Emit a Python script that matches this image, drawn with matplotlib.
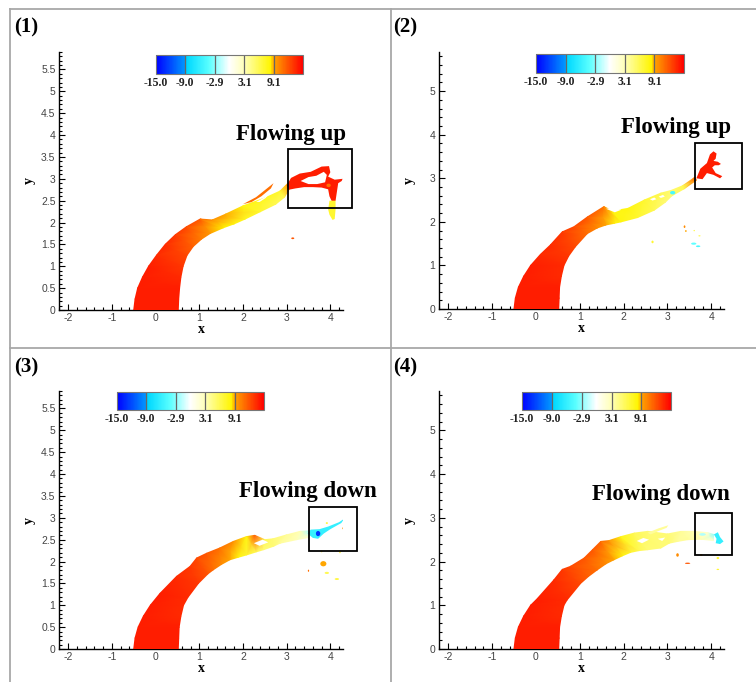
import numpy as np
import matplotlib
matplotlib.use("Agg")
import matplotlib.pyplot as plt
from matplotlib.colors import LinearSegmentedColormap, Normalize
from matplotlib.patches import Rectangle, Ellipse, Polygon
from matplotlib.cm import ScalarMappable
from matplotlib.ticker import MultipleLocator, FormatStrFormatter
from matplotlib.lines import Line2D

W, H = 756, 682
SERIF = "Liberation Serif"
SANS = "Liberation Sans"

# legend levels
levels = [-15.0, -9.0, -2.9, 3.1, 9.1, 15.1]
level_labels = ["-15.0", "-9.0", "-2.9", "3.1", "9.1"]

# plume boundaries, (x, y, value) along upper and lower edge
p1_upper = [(-0.50, 0.00, 14), (-0.47, 0.25, 14), (-0.41, 0.50, 14), (-0.30, 0.75, 14),
            (-0.16, 1.00, 14), (0.02, 1.25, 13.5), (0.22, 1.50, 13.5), (0.45, 1.72, 13),
            (0.70, 1.90, 12.5), (1.02, 2.08, 12), (1.30, 2.06, 10), (1.60, 2.19, 9),
            (2.00, 2.38, 8), (2.50, 2.56, 7.5), (2.85, 2.72, 7), (3.05, 2.92, 10)]
p1_lower = [(0.52, 0.00, 14), (0.53, 0.25, 14), (0.55, 0.50, 14), (0.58, 0.75, 13.5),
            (0.63, 1.00, 13), (0.72, 1.25, 12.5), (0.86, 1.45, 11.5), (1.05, 1.62, 10.5),
            (1.25, 1.75, 9.5), (1.55, 1.88, 8.5), (1.80, 1.97, 8), (2.05, 2.08, 7.5),
            (2.40, 2.25, 7), (2.75, 2.42, 6), (2.95, 2.58, 6), (3.08, 2.80, 10)]

p2_upper = [(-0.50, 0.00, 14), (-0.47, 0.25, 14), (-0.40, 0.50, 14), (-0.28, 0.75, 14),
            (-0.12, 1.00, 14), (0.10, 1.25, 13.5), (0.33, 1.47, 13.5), (0.60, 1.77, 13),
            (0.87, 1.89, 12.5), (1.17, 2.11, 12), (1.55, 2.35, 11), (1.75, 2.25, 8),
            (2.10, 2.31, 8), (2.47, 2.50, 7), (2.85, 2.66, 6), (3.08, 2.72, 5),
            (3.35, 2.83, 6), (3.62, 3.02, 11)]
p2_lower = [(0.52, 0.00, 14), (0.53, 0.25, 14), (0.54, 0.50, 14), (0.58, 0.75, 13.5),
            (0.64, 1.00, 13.5), (0.75, 1.22, 13), (0.90, 1.43, 12.5), (1.17, 1.73, 11),
            (1.40, 1.86, 10), (1.60, 1.93, 9), (1.80, 1.97, 8), (1.94, 2.00, 8),
            (2.32, 2.10, 7), (2.70, 2.27, 6), (2.95, 2.45, 5), (3.10, 2.60, 5),
            (3.38, 2.76, 6), (3.66, 2.96, 11)]

p3_upper = [(-0.50, 0.00, 14), (-0.47, 0.25, 14), (-0.40, 0.50, 14), (-0.28, 0.75, 14),
            (-0.12, 1.00, 14), (0.10, 1.27, 14), (0.48, 1.66, 13.5), (0.79, 1.89, 13),
            (0.94, 2.08, 12.5), (1.17, 2.19, 12), (1.47, 2.31, 11), (1.78, 2.46, 10),
            (2.08, 2.57, 8), (2.27, 2.60, 12), (2.50, 2.50, 6), (2.69, 2.52, 5),
            (3.00, 2.61, 4), (3.31, 2.69, 3), (3.50, 2.70, -2)]
p3_lower = [(0.52, 0.00, 14), (0.53, 0.25, 14), (0.54, 0.50, 14), (0.58, 0.75, 13.5),
            (0.64, 1.00, 13.5), (0.74, 1.18, 13.5), (0.98, 1.50, 13), (1.20, 1.72, 12),
            (1.32, 1.81, 11), (1.50, 1.93, 10), (1.70, 2.04, 9), (1.90, 2.10, 8),
            (2.08, 2.15, 7), (2.30, 2.22, 6), (2.47, 2.27, 5), (2.70, 2.35, 5),
            (2.85, 2.42, 4), (3.23, 2.50, 3), (3.50, 2.55, 2)]

p4_upper = [(-0.50, 0.00, 14), (-0.47, 0.25, 14), (-0.40, 0.50, 14), (-0.28, 0.75, 14),
            (-0.12, 1.00, 14), (0.03, 1.15, 14), (0.41, 1.58, 13.5), (0.60, 1.82, 13),
            (0.79, 1.89, 12.5), (1.10, 2.08, 12), (1.29, 2.27, 12), (1.48, 2.46, 11.5),
            (1.67, 2.48, 10), (1.94, 2.57, 8), (2.24, 2.65, 6), (2.55, 2.69, 5),
            (3.00, 2.63, 5), (3.31, 2.69, 4), (3.61, 2.69, 3), (3.92, 2.66, 2),
            (4.05, 2.62, -3)]
p4_lower = [(0.52, 0.00, 14), (0.53, 0.25, 14), (0.54, 0.50, 14), (0.58, 0.75, 13.5),
            (0.64, 1.00, 13.5), (0.71, 1.12, 13.5), (1.02, 1.50, 12.5), (1.20, 1.66, 11.5),
            (1.40, 1.81, 11), (1.60, 1.95, 10), (1.78, 2.04, 9), (1.97, 2.13, 8),
            (2.16, 2.21, 7), (2.35, 2.25, 6), (2.55, 2.27, 5), (2.85, 2.31, 5),
            (3.04, 2.42, 5), (3.23, 2.46, 4), (3.46, 2.50, 4), (3.77, 2.51, 3),
            (4.05, 2.48, 2)]

# detached pieces: (outline, value)
p1_pieces = [
    ([(2.00, 2.42), (2.30, 2.58), (2.55, 2.78), (2.70, 2.90), (2.64, 2.78), (2.42, 2.60), (2.20, 2.47)], 11),
    ([(3.00, 2.85), (3.10, 3.02), (3.30, 3.12), (3.55, 3.16), (3.80, 3.28), (3.97, 3.29),
      (4.00, 3.15), (3.95, 3.05), (4.10, 2.98), (4.28, 3.00), (4.26, 2.95), (4.18, 2.90),
      (4.15, 2.70), (4.12, 2.50), (4.05, 2.45), (3.98, 2.60), (3.95, 2.76), (3.80, 2.80),
      (3.60, 2.81), (3.40, 2.81), (3.20, 2.78), (3.05, 2.75)], 14),
    ([(3.98, 2.50), (4.12, 2.50), (4.12, 2.30), (4.10, 2.08), (4.05, 2.06), (3.98, 2.18), (3.95, 2.30)], 7),
]
p1_holes = [[(3.32, 2.95), (3.50, 3.04), (3.68, 3.07), (3.85, 3.16), (3.92, 3.09),
             (3.88, 2.92), (3.70, 2.88), (3.50, 2.88)],
            [(2.30, 2.47), (2.48, 2.57), (2.60, 2.66), (2.52, 2.56), (2.38, 2.47)]]
# droplets: (x, y, width, height, value)
p1_drops = [(3.14, 1.64, 0.07, 0.04, 12), (3.96, 2.85, 0.10, 0.08, 11)]

p2_pieces = [
    ([(3.66, 3.00), (3.75, 3.22), (3.90, 3.35), (3.97, 3.55), (4.05, 3.62), (4.12, 3.57),
      (4.10, 3.45), (4.05, 3.40), (4.15, 3.38), (4.22, 3.33), (4.17, 3.30), (4.08, 3.30),
      (4.02, 3.25), (4.10, 3.12), (4.25, 3.05), (4.20, 3.00), (4.05, 3.08), (3.90, 3.12),
      (3.80, 2.98)], 14),
]
p2_holes = [[(1.60, 2.30), (1.75, 2.33), (1.95, 2.28), (1.80, 2.22)],
            [(2.60, 2.52), (2.70, 2.56), (2.75, 2.52), (2.66, 2.49)],
            [(2.80, 2.58), (2.90, 2.62), (2.94, 2.58), (2.85, 2.55)]]
p2_drops = [(3.12, 2.67, 0.12, 0.08, -5), (2.66, 1.54, 0.05, 0.06, 7), (3.39, 1.89, 0.04, 0.06, 10),
            (3.42, 1.79, 0.04, 0.04, 9), (3.61, 1.80, 0.03, 0.03, 7), (3.73, 1.68, 0.05, 0.03, 6),
            (3.60, 1.50, 0.12, 0.05, -4), (3.70, 1.44, 0.10, 0.04, -5)]

p3_pieces = [
    ([(3.48, 2.64), (3.55, 2.73), (3.75, 2.74), (3.95, 2.80), (4.20, 2.90), (4.32, 2.98),
      (4.25, 2.88), (4.00, 2.74), (3.85, 2.64), (3.72, 2.52), (3.60, 2.54)], -6),
]
p3_holes = [[(2.25, 2.42), (2.45, 2.50), (2.58, 2.44), (2.38, 2.36)]]
p3_drops = [(3.72, 2.64, 0.10, 0.12, -13), (3.92, 2.88, 0.05, 0.04, 7), (4.30, 2.76, 0.05, 0.05, 10),
            (3.80, 2.23, 0.04, 0.04, 6), (4.22, 2.21, 0.04, 0.04, 6), (3.84, 1.95, 0.14, 0.12, 9),
            (3.50, 1.79, 0.03, 0.05, 11), (3.92, 1.74, 0.10, 0.05, 6), (4.15, 1.60, 0.10, 0.04, 7)]

p4_pieces = [
    ([(2.55, 2.66), (2.80, 2.76), (3.02, 2.83), (2.98, 2.77), (2.80, 2.70), (2.62, 2.62)], 4),
    ([(4.06, 2.62), (4.15, 2.67), (4.20, 2.56), (4.28, 2.46), (4.20, 2.40), (4.10, 2.42), (4.12, 2.52)], -6),
]
p4_holes = [[(2.30, 2.47), (2.45, 2.54), (2.58, 2.50), (2.42, 2.42)],
            [(2.78, 2.52), (2.95, 2.55), (2.88, 2.47)]]
p4_drops = [(3.80, 2.62, 0.15, 0.06, -2), (3.23, 2.15, 0.06, 0.08, 10), (3.46, 1.96, 0.12, 0.03, 12),
            (3.77, 2.15, 0.06, 0.04, 10), (4.15, 2.08, 0.06, 0.05, 7), (4.15, 1.82, 0.06, 0.03, 7)]

# blue - cyan - white - yellow - red
cmap = LinearSegmentedColormap.from_list("flow", [
    (0.000, (0.00, 0.00, 1.00)),
    (0.199, (0.00, 0.60, 1.00)),
    (0.210, (0.00, 0.85, 1.00)),
    (0.360, (0.35, 1.00, 1.00)),
    (0.498, (1.00, 1.00, 1.00)),
    (0.601, (1.00, 1.00, 0.72)),
    (0.780, (1.00, 0.96, 0.00)),
    (0.800, (1.00, 0.65, 0.00)),
    (1.000, (1.00, 0.00, 0.00)),
])
norm = Normalize(levels[0], levels[-1])


def rect(l, t, r, b):
    return [l / W, 1 - b / H, (r - l) / W, (b - t) / H]


fig = plt.figure(figsize=(W / 100, H / 100), dpi=100)

# frame lines around the panels
for xs, ys in [((10, W), (9, 9)), ((10, 10), (9, H)), ((391, 391), (9, H)), ((10, W), (348, 348))]:
    fig.add_artist(Line2D([x / W for x in xs], [1 - y / H for y in ys],
                          color="#a8a8a8", lw=1.3, transform=fig.transFigure))

panels = [
    dict(ax=(59, 52, 343, 310), cb=(156, 55, 303, 74), tag=(14, 27), name="(1)", ystep=0.5,
         upper=p1_upper, lower=p1_lower, pieces=p1_pieces, holes=p1_holes, drops=p1_drops,
         box=(3.03, 2.33, 4.49, 3.68), note="Flowing up", note_xy=(3.10, 3.89)),
    dict(ax=(439, 52, 724, 309), cb=(536, 54, 684, 73), tag=(393, 27), name="(2)", ystep=1,
         upper=p2_upper, lower=p2_lower, pieces=p2_pieces, holes=p2_holes, drops=p2_drops,
         box=(3.63, 2.75, 4.70, 3.80), note="Flowing up", note_xy=(3.20, 4.03)),
    dict(ax=(59, 391, 343, 649), cb=(117, 392, 264, 410), tag=(14, 367), name="(3)", ystep=0.5,
         upper=p3_upper, lower=p3_lower, pieces=p3_pieces, holes=p3_holes, drops=p3_drops,
         box=(3.51, 2.24, 4.61, 3.25), note="Flowing down", note_xy=(3.49, 3.48)),
    dict(ax=(439, 391, 724, 649), cb=(522, 392, 671, 410), tag=(393, 367), name="(4)", ystep=1,
         upper=p4_upper, lower=p4_lower, pieces=p4_pieces, holes=p4_holes, drops=p4_drops,
         box=(3.63, 2.15, 4.47, 3.11), note="Flowing down", note_xy=(2.85, 3.41)),
]

for p in panels:
    ax = fig.add_axes(rect(*p["ax"]))
    ax.set_xlim(-2.21, 4.29)
    ax.set_ylim(0, 5.9)
    for s in ("top", "right"):
        ax.spines[s].set_visible(False)
    for s in ("left", "bottom"):
        ax.spines[s].set_linewidth(1.0)
    ax.xaxis.set_major_locator(MultipleLocator(1))
    ax.xaxis.set_minor_locator(MultipleLocator(0.2))
    ax.yaxis.set_major_locator(MultipleLocator(p["ystep"]))
    ax.yaxis.set_minor_locator(MultipleLocator(0.1 if p["ystep"] == 0.5 else 0.2))
    ax.xaxis.set_major_formatter(FormatStrFormatter("%g"))
    ax.yaxis.set_major_formatter(FormatStrFormatter("%g"))
    ax.tick_params(which="both", direction="in", top=False, right=False, width=0.8,
                   labelsize=7.5, labelcolor="#444444")
    ax.tick_params(which="major", length=4.5, pad=2.5)
    ax.tick_params(which="minor", length=2.5)
    for lab in ax.get_xticklabels() + ax.get_yticklabels():
        lab.set_fontfamily(SANS)
    ax.set_xlabel("x", fontfamily=SERIF, fontweight="bold", fontsize=10, labelpad=0)
    ax.set_ylabel("y", fontfamily=SERIF, fontweight="bold", fontsize=10)
    # y label sits about 23 px left of the axis line in every panel
    axw = p["ax"][2] - p["ax"][0]
    ax.yaxis.set_label_coords(-23 / axw, 0.5)

    # main plume as a shaded ribbon between the two edges
    up = np.array(p["upper"], dtype=float)
    lo = np.array(p["lower"], dtype=float)
    X = np.vstack([up[:, 0], lo[:, 0]])
    Y = np.vstack([up[:, 1], lo[:, 1]])
    C = np.vstack([up[:, 2], lo[:, 2]])
    ax.pcolormesh(X, Y, C, cmap=cmap, norm=norm, shading="gouraud", zorder=3)

    for pts, v in p["pieces"]:
        ax.add_patch(Polygon(pts, closed=True, facecolor=cmap(norm(v)), edgecolor="none", zorder=3.2))
    for pts in p["holes"]:
        ax.add_patch(Polygon(pts, closed=True, facecolor="white", edgecolor="none", zorder=3.3))
    for x, y, w, h, v in p["drops"]:
        ax.add_patch(Ellipse((x, y), w, h, facecolor=cmap(norm(v)), edgecolor="none", zorder=3.4))

    x0, y0, x1, y1 = p["box"]
    ax.add_patch(Rectangle((x0, y0), x1 - x0, y1 - y0, fill=False, edgecolor="black",
                           lw=1.3, zorder=5, clip_on=False))
    ax.text(*p["note_xy"], p["note"], ha="center", va="baseline", fontfamily=SERIF,
            fontweight="bold", fontsize=16.5, clip_on=False, zorder=6)

    # legend bar
    cax = fig.add_axes(rect(*p["cb"]))
    cb = fig.colorbar(ScalarMappable(norm=norm, cmap=cmap), cax=cax, orientation="horizontal")
    cb.set_ticks(levels[:-1])
    cb.set_ticklabels(level_labels)
    cax.tick_params(length=0, pad=2, labelsize=8.5, labelcolor="#222222")
    for lab in cax.get_xticklabels():
        lab.set_fontfamily(SERIF)
        lab.set_fontweight("bold")
    cb.outline.set_edgecolor("#777777")
    cb.outline.set_linewidth(0.8)
    for v in levels[1:-1]:
        cax.axvline(v, color="#666666", lw=0.9)

    fig.text(p["tag"][0] / W, 1 - p["tag"][1] / H, p["name"], ha="left", va="center",
             fontfamily=SERIF, fontweight="bold", fontsize=15)

fig.savefig("out.png", dpi=100)
